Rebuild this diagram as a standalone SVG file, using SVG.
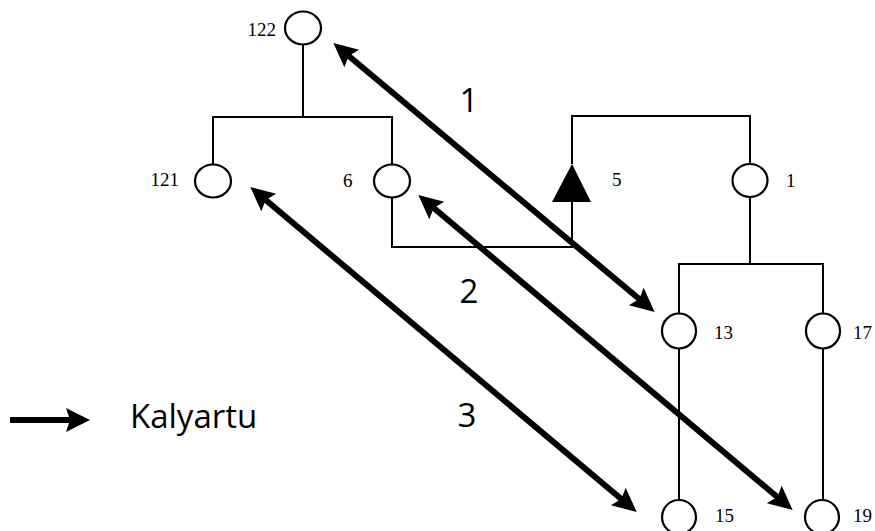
<svg xmlns="http://www.w3.org/2000/svg" width="875" height="531" viewBox="0 0 875 531">
<style>
.ln{fill:none;stroke:#000;stroke-width:2}
.nd{fill:#fff;stroke:#000;stroke-width:2.2}
.lb{font-family:"Liberation Serif",serif;font-size:19px;fill:#000}
.big{font-family:"Open Sans",sans-serif;font-size:33px;fill:#000}
.ar{stroke:#000;stroke-width:6;fill:none;marker-start:url(#ah);marker-end:url(#ah)}
</style>
<defs>
<marker id="ah" markerUnits="userSpaceOnUse" orient="auto-start-reverse" overflow="visible" refX="0" refY="0" markerWidth="30" markerHeight="30">
<path d="M10,0 L-14,-11.5 L-10,0 L-14,11.5 Z" fill="#000"/>
</marker>
</defs>
<g id="tree-lines">
<polyline class="ln" points="303,44 303,117"/>
<polyline class="ln" points="213,165 213,117 392,117 392,165"/>
<polyline class="ln" points="392,197 392,247 572,247 572,202"/>
<polyline class="ln" points="572,164 572,116 750,116 750,164"/>
<polyline class="ln" points="750,197 750,264"/>
<polyline class="ln" points="679,314 679,264 823,264 823,314"/>
<polyline class="ln" points="679,348 679,500"/>
<polyline class="ln" points="823,348 823,500"/>
</g>
<g id="n122"><ellipse class="nd" cx="303" cy="28" rx="18" ry="16.5"/><text class="lb" x="276" y="36" text-anchor="end">122</text></g>
<g id="n121"><ellipse class="nd" cx="213" cy="181" rx="18" ry="16.5"/><text class="lb" x="179" y="186" text-anchor="end">121</text></g>
<g id="n6"><ellipse class="nd" cx="392" cy="181" rx="18" ry="16.5"/><text class="lb" x="343" y="187">6</text></g>
<g id="n5"><polygon points="572,164 552,202 591,202" fill="#000"/><text class="lb" x="612" y="186">5</text></g>
<g id="n1"><ellipse class="nd" cx="750" cy="180.5" rx="17.5" ry="16.5"/><text class="lb" x="786" y="187">1</text></g>
<g id="n13"><ellipse class="nd" cx="679" cy="331" rx="17" ry="17.5"/><text class="lb" x="714" y="339">13</text></g>
<g id="n17"><ellipse class="nd" cx="823" cy="331" rx="17" ry="17.5"/><text class="lb" x="853" y="339">17</text></g>
<g id="n15"><ellipse class="nd" cx="679" cy="517" rx="17" ry="17"/><text class="lb" x="715" y="522">15</text></g>
<g id="n19"><ellipse class="nd" cx="822" cy="517" rx="17" ry="17"/><text class="lb" x="853" y="522">19</text></g>
<g id="connectors">
<line class="ar" x1="341" y1="49.5" x2="647" y2="305.5"/>
<line class="ar" x1="426" y1="201.5" x2="785" y2="503.5"/>
<line class="ar" x1="258" y1="193.5" x2="629" y2="505.5"/>
</g>
<g id="labels">
<text class="big" x="469" y="112" text-anchor="middle">1</text>
<text class="big" x="469" y="303" text-anchor="middle">2</text>
<text class="big" x="467" y="427" text-anchor="middle">3</text>
</g>
<g id="legend">
<line x1="10" y1="420" x2="70" y2="420" stroke="#000" stroke-width="6"/>
<path d="M90,420 L66,408 L70,420 L66,432 Z" fill="#000"/>
<text class="big" x="130" y="428">Kalyartu</text>
</g>
</svg>
